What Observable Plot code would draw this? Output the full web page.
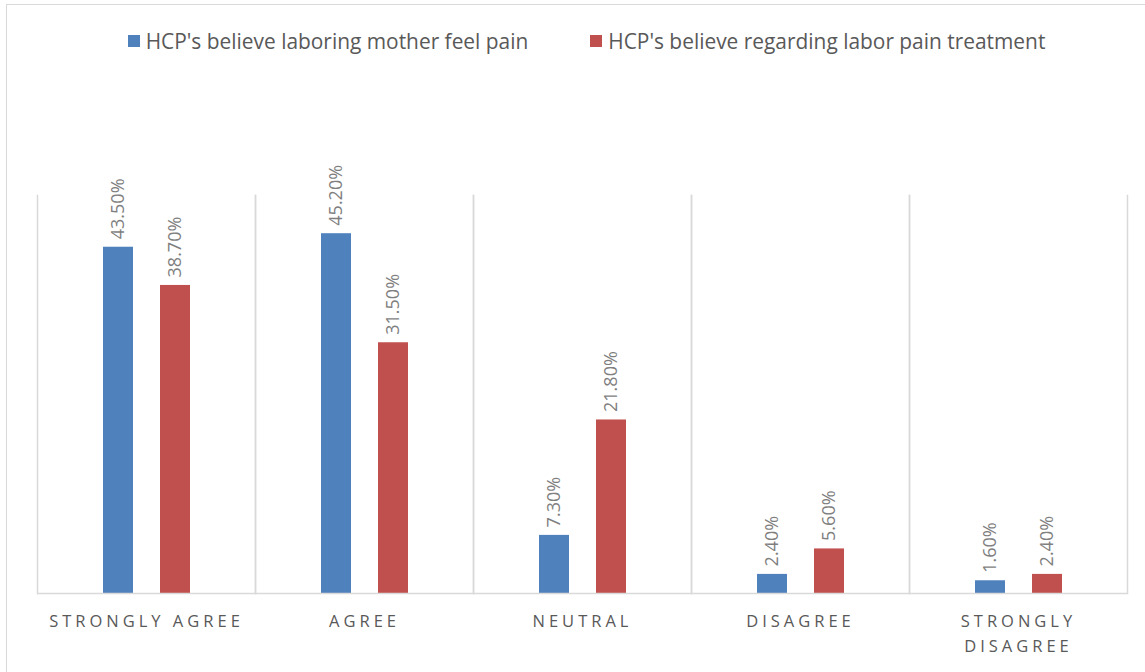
<!DOCTYPE html>
<html>
<head>
<meta charset="utf-8">
<script src="https://cdn.jsdelivr.net/npm/d3@7"></script>
<script src="https://cdn.jsdelivr.net/npm/@observablehq/plot@0.6"></script>
<style>
  html, body { margin: 0; padding: 0; background: #fff; }
  body { width: 1145px; height: 672px; overflow: hidden; position: relative; font-family: "Open Sans", sans-serif; }
  .border { position: absolute; left: 6px; top: 4px; width: 1160px; height: 700px; border: 1.5px solid #d9d9d9; box-sizing: border-box; }
  .legend { position: relative; height: 80px; display: flex; justify-content: center; align-items: flex-start; gap: 62px; padding-left: 28px; box-sizing: border-box; }
  .legend .item { display: flex; align-items: center; margin-top: 27px; font-size: 20.9px; color: #595959; }
  .legend .sw { width: 12px; height: 12px; margin-right: 6px; }
  #chart { position: relative; }
  .cat-axis text { letter-spacing: 4px; }
</style>
</head>
<body>
<div class="border"></div>
<div class="legend" id="legend"></div>
<div id="chart"></div>
<script>
// Survey responses (percent of health care providers)
const categories = ["STRONGLY AGREE", "AGREE", "NEUTRAL", "DISAGREE", "STRONGLY DISAGREE"];
const categoryLabels = ["STRONGLY AGREE", "AGREE", "NEUTRAL", "DISAGREE", "STRONGLY\nDISAGREE"];
const seriesNames = ["HCP's believe laboring mother feel pain", "HCP's believe regarding labor pain treatment"];
const feelPain = [43.5, 45.2, 7.3, 2.4, 1.6];
const painTreatment = [38.7, 31.5, 21.8, 5.6, 2.4];
const seriesColors = ["#4f81bd", "#c0504d"];

const rows = [];
categories.forEach((c, i) => {
  rows.push({category: c, series: seriesNames[0], value: feelPain[i]});
  rows.push({category: c, series: seriesNames[1], value: painTreatment[i]});
});

// Legend
const legend = document.getElementById("legend");
seriesNames.forEach((s, i) => {
  const item = document.createElement("div");
  item.className = "item";
  const sw = document.createElement("span");
  sw.className = "sw";
  sw.style.background = seriesColors[i];
  item.appendChild(sw);
  item.appendChild(document.createTextNode(s));
  legend.appendChild(item);
});

const labelOf = new Map(categories.map((c, i) => [c, categoryLabels[i]]));

const chart = Plot.plot({
  width: 1145,
  height: 592,
  marginLeft: 36,
  marginRight: 17,
  marginTop: 115,
  marginBottom: 79,
  style: {fontFamily: "Open Sans, sans-serif", background: "transparent"},
  fx: {domain: categories, padding: 0, label: null},
  x: {domain: seriesNames, paddingInner: 0.4737, paddingOuter: 1.149, axis: null},
  y: {domain: [0, 50], axis: null},
  color: {domain: seriesNames, range: seriesColors},
  marks: [
    Plot.frame({anchor: "left", stroke: "#d9d9d9", strokeWidth: 1.5}),
    Plot.frame({anchor: "right", stroke: "#d9d9d9", strokeWidth: 1.5}),
    Plot.barY(rows, {fx: "category", x: "series", y: "value", fill: "series"}),
    Plot.ruleY([0], {stroke: "#d9d9d9", strokeWidth: 1.5}),
    Plot.text(rows, {
      fx: "category", x: "series", y: "value",
      text: d => d.value.toFixed(2) + "%",
      rotate: -90, textAnchor: "start", dy: -8,
      fill: "#7f7f7f", fontSize: 18
    }),
    Plot.axisFx({
      anchor: "bottom", tickSize: 0, tickPadding: 15, label: null,
      tickFormat: d => labelOf.get(d),
      lineAnchor: "top", lineHeight: 1.55,
      fontSize: 16.5, fill: "#595959", className: "cat-axis"
    })
  ]
});
document.getElementById("chart").appendChild(chart);
</script>
</body>
</html>
